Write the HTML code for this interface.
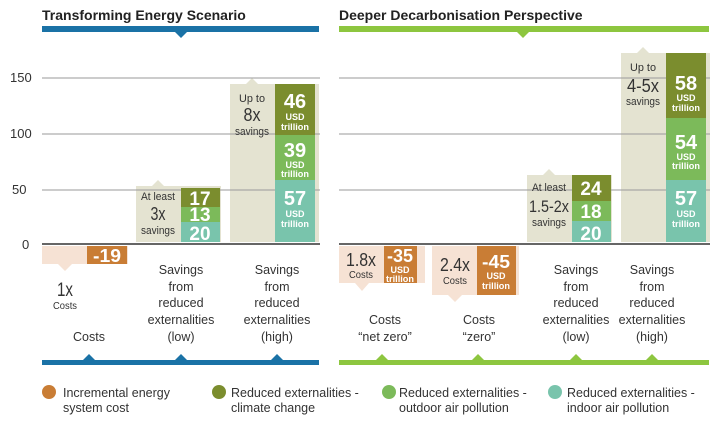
<!DOCTYPE html>
<html><head><meta charset="utf-8"><style>
body{margin:0;background:#fff}
svg{display:block}
.t{font-family:"Liberation Sans",sans-serif;font-size:14px;font-weight:bold;fill:#222}
.ax{font-family:"Liberation Sans",sans-serif;font-size:13px;fill:#333}
.c{font-family:"Liberation Sans Narrow","Liberation Sans",sans-serif;fill:#fff;text-anchor:middle;font-weight:bold}
.d{font-family:"Liberation Sans Narrow","Liberation Sans",sans-serif;fill:#333;text-anchor:middle}
.l{font-family:"Liberation Sans",sans-serif;font-size:12.5px;fill:#333;text-anchor:middle}
.lg{font-family:"Liberation Sans",sans-serif;font-size:12.5px;fill:#333}
</style></head><body>
<svg width="724" height="432" viewBox="0 0 724 432" xmlns="http://www.w3.org/2000/svg">
<text class="t" x="42" y="20">Transforming Energy Scenario</text>
<text class="t" x="339" y="20">Deeper Decarbonisation Perspective</text>
<rect x="42" y="26" width="277" height="6" fill="#1a72a6"/>
<polygon points="175,32 187,32 181,38" fill="#1a72a6"/>
<rect x="339" y="26" width="370" height="6" fill="#8dc63f"/>
<polygon points="517,32 529,32 523,38" fill="#8dc63f"/>
<!-- bgs first -->
<rect x="42" y="246" width="86" height="18" fill="#f6e2d4"/>
<polygon points="58,264 72,264 65,271" fill="#f6e2d4"/>
<polygon points="152,186 158,180 164,186" fill="#e4e3d1"/>
<rect x="136" y="186" width="85" height="56" fill="#e4e3d1"/>
<polygon points="246,84 252,78 258,84" fill="#e4e3d1"/>
<rect x="230" y="84" width="89" height="158" fill="#e4e3d1"/>
<rect x="339" y="246" width="86" height="37" fill="#f6e2d4"/>
<polygon points="355,283 369,283 362,291" fill="#f6e2d4"/>
<rect x="432" y="246" width="87" height="49" fill="#f6e2d4"/>
<polygon points="448,295 462,295 455,302" fill="#f6e2d4"/>
<polygon points="543,175 549,169 555,175" fill="#e4e3d1"/>
<rect x="527" y="175" width="85" height="67" fill="#e4e3d1"/>
<polygon points="637,53 643,47 649,53" fill="#e4e3d1"/>
<rect x="621" y="53" width="89" height="189" fill="#e4e3d1"/>
<g stroke="#9a9a9a" stroke-width="1">
<line x1="42" y1="78" x2="320" y2="78"/><line x1="42" y1="134" x2="320" y2="134"/><line x1="42" y1="190" x2="320" y2="190"/>
<line x1="339" y1="78" x2="710" y2="78"/><line x1="339" y1="134" x2="710" y2="134"/><line x1="339" y1="190" x2="710" y2="190"/>
</g>
<text class="ax" x="10" y="82">150</text><text class="ax" x="10" y="138">100</text><text class="ax" x="12" y="194">50</text><text class="ax" x="22" y="249">0</text>
<!-- left costs -->
<rect x="87" y="246" width="40" height="18" fill="#c97d35"/>
<text class="c" x="107" y="262" font-size="18" font-weight="normal" textLength="28" lengthAdjust="spacingAndGlyphs">-19</text>
<text class="d" x="65" y="296" font-size="19" textLength="16" lengthAdjust="spacingAndGlyphs">1x</text>
<text class="d" x="65" y="309" font-size="10" textLength="24" lengthAdjust="spacingAndGlyphs">Costs</text>
<!-- left low -->
<rect x="181" y="188" width="39" height="19" fill="#7b8d2e"/>
<rect x="181" y="207" width="39" height="15" fill="#7cba5a"/>
<rect x="181" y="222" width="39" height="20" fill="#79c4ac"/>
<text class="c" x="200" y="205" font-size="19" font-weight="normal">17</text>
<text class="c" x="200" y="221" font-size="19" font-weight="normal">13</text>
<text class="c" x="200" y="240" font-size="19" font-weight="normal">20</text>
<text class="d" x="158" y="200" font-size="11" textLength="34" lengthAdjust="spacingAndGlyphs">At least</text>
<text class="d" x="158" y="220" font-size="18" textLength="15" lengthAdjust="spacingAndGlyphs">3x</text>
<text class="d" x="158" y="234" font-size="11" textLength="34" lengthAdjust="spacingAndGlyphs">savings</text>
<!-- left high -->
<rect x="275" y="84" width="40" height="51" fill="#7b8d2e"/>
<rect x="275" y="135" width="40" height="45" fill="#7cba5a"/>
<rect x="275" y="180" width="40" height="62" fill="#79c4ac"/>
<text class="c" x="295" y="108" font-size="20" font-weight="normal">46</text><text class="c" x="295" y="120" font-size="9">USD</text><text class="c" x="295" y="130" font-size="9" textLength="28" lengthAdjust="spacingAndGlyphs">trillion</text>
<text class="c" x="295" y="157" font-size="20" font-weight="normal">39</text><text class="c" x="295" y="168" font-size="9">USD</text><text class="c" x="295" y="177" font-size="9" textLength="28" lengthAdjust="spacingAndGlyphs">trillion</text>
<text class="c" x="295" y="205" font-size="20" font-weight="normal">57</text><text class="c" x="295" y="217" font-size="9">USD</text><text class="c" x="295" y="227" font-size="9" textLength="28" lengthAdjust="spacingAndGlyphs">trillion</text>
<text class="d" x="252" y="102" font-size="11" textLength="26" lengthAdjust="spacingAndGlyphs">Up to</text>
<text class="d" x="252" y="121" font-size="18" textLength="17" lengthAdjust="spacingAndGlyphs">8x</text>
<text class="d" x="252" y="135" font-size="11" textLength="34" lengthAdjust="spacingAndGlyphs">savings</text>
<!-- right net zero -->
<rect x="384" y="246" width="33" height="37" fill="#c97d35"/>
<text class="c" x="400" y="262" font-size="18" font-weight="normal" textLength="26" lengthAdjust="spacingAndGlyphs">-35</text><text class="c" x="400" y="273" font-size="9">USD</text><text class="c" x="400" y="282" font-size="9" textLength="28" lengthAdjust="spacingAndGlyphs">trillion</text>
<text class="d" x="361" y="266" font-size="18" textLength="30" lengthAdjust="spacingAndGlyphs">1.8x</text>
<text class="d" x="361" y="278" font-size="10" textLength="24" lengthAdjust="spacingAndGlyphs">Costs</text>
<!-- right zero -->
<rect x="477" y="246" width="39" height="49" fill="#c97d35"/>
<text class="c" x="496" y="268" font-size="18" font-weight="normal" textLength="28" lengthAdjust="spacingAndGlyphs">-45</text><text class="c" x="496" y="279" font-size="9">USD</text><text class="c" x="496" y="289" font-size="9" textLength="28" lengthAdjust="spacingAndGlyphs">trillion</text>
<text class="d" x="455" y="271" font-size="18" textLength="30" lengthAdjust="spacingAndGlyphs">2.4x</text>
<text class="d" x="455" y="284" font-size="10" textLength="24" lengthAdjust="spacingAndGlyphs">Costs</text>
<!-- right low -->
<rect x="572" y="175" width="39" height="26" fill="#7b8d2e"/>
<rect x="572" y="201" width="39" height="20" fill="#7cba5a"/>
<rect x="572" y="221" width="39" height="21" fill="#79c4ac"/>
<text class="c" x="591" y="195" font-size="19" font-weight="normal">24</text>
<text class="c" x="591" y="218" font-size="19" font-weight="normal">18</text>
<text class="c" x="591" y="240" font-size="19" font-weight="normal">20</text>
<text class="d" x="549" y="191" font-size="11" textLength="34" lengthAdjust="spacingAndGlyphs">At least</text>
<text class="d" x="549" y="212" font-size="17" textLength="40" lengthAdjust="spacingAndGlyphs">1.5-2x</text>
<text class="d" x="549" y="226" font-size="11" textLength="34" lengthAdjust="spacingAndGlyphs">savings</text>
<!-- right high -->
<rect x="666" y="53" width="40" height="65" fill="#7b8d2e"/>
<rect x="666" y="118" width="40" height="62" fill="#7cba5a"/>
<rect x="666" y="180" width="40" height="62" fill="#79c4ac"/>
<text class="c" x="686" y="90" font-size="20" font-weight="normal">58</text><text class="c" x="686" y="101" font-size="9">USD</text><text class="c" x="686" y="111" font-size="9" textLength="28" lengthAdjust="spacingAndGlyphs">trillion</text>
<text class="c" x="686" y="149" font-size="20" font-weight="normal">54</text><text class="c" x="686" y="160" font-size="9">USD</text><text class="c" x="686" y="169" font-size="9" textLength="28" lengthAdjust="spacingAndGlyphs">trillion</text>
<text class="c" x="686" y="205" font-size="20" font-weight="normal">57</text><text class="c" x="686" y="217" font-size="9">USD</text><text class="c" x="686" y="227" font-size="9" textLength="28" lengthAdjust="spacingAndGlyphs">trillion</text>
<text class="d" x="643" y="71" font-size="11" textLength="26" lengthAdjust="spacingAndGlyphs">Up to</text>
<text class="d" x="643" y="92" font-size="18" textLength="32" lengthAdjust="spacingAndGlyphs">4-5x</text>
<text class="d" x="643" y="105" font-size="11" textLength="34" lengthAdjust="spacingAndGlyphs">savings</text>
<!-- zero line -->
<line x1="42" y1="244" x2="320" y2="244" stroke="#333" stroke-width="1.5"/>
<line x1="339" y1="244" x2="710" y2="244" stroke="#333" stroke-width="1.5"/>
<!-- category labels -->
<text class="l" x="89" y="341">Costs</text>
<text class="l"><tspan x="181" y="274">Savings</tspan><tspan x="181" y="291">from</tspan><tspan x="181" y="307">reduced</tspan><tspan x="181" y="324">externalities</tspan><tspan x="181" y="341">(low)</tspan></text>
<text class="l"><tspan x="277" y="274">Savings</tspan><tspan x="277" y="291">from</tspan><tspan x="277" y="307">reduced</tspan><tspan x="277" y="324">externalities</tspan><tspan x="277" y="341">(high)</tspan></text>
<text class="l"><tspan x="385" y="324">Costs</tspan><tspan x="385" y="341">“net zero”</tspan></text>
<text class="l"><tspan x="479" y="324">Costs</tspan><tspan x="479" y="341">“zero”</tspan></text>
<text class="l"><tspan x="576" y="274">Savings</tspan><tspan x="576" y="291">from</tspan><tspan x="576" y="307">reduced</tspan><tspan x="576" y="324">externalities</tspan><tspan x="576" y="341">(low)</tspan></text>
<text class="l"><tspan x="652" y="274">Savings</tspan><tspan x="652" y="291">from</tspan><tspan x="652" y="307">reduced</tspan><tspan x="652" y="324">externalities</tspan><tspan x="652" y="341">(high)</tspan></text>
<!-- bottom bars -->
<rect x="42" y="360" width="277" height="5" fill="#1a72a6"/>
<polygon points="83,360 95,360 89,354" fill="#1a72a6"/><polygon points="175,360 187,360 181,354" fill="#1a72a6"/><polygon points="271,360 283,360 277,354" fill="#1a72a6"/>
<rect x="339" y="360" width="370" height="5" fill="#8dc63f"/>
<polygon points="376,360 388,360 382,354" fill="#8dc63f"/><polygon points="472,360 484,360 478,354" fill="#8dc63f"/><polygon points="570,360 582,360 576,354" fill="#8dc63f"/><polygon points="646,360 658,360 652,354" fill="#8dc63f"/>
<!-- legend -->
<circle cx="49" cy="392" r="7" fill="#c97d35"/>
<text class="lg"><tspan x="63" y="397">Incremental energy</tspan><tspan x="63" y="412">system cost</tspan></text>
<circle cx="219" cy="392" r="7" fill="#7b8d2e"/>
<text class="lg"><tspan x="231" y="397">Reduced externalities -</tspan><tspan x="231" y="412">climate change</tspan></text>
<circle cx="389" cy="392" r="7" fill="#7cba5a"/>
<text class="lg"><tspan x="399" y="397">Reduced externalities -</tspan><tspan x="399" y="412">outdoor air pollution</tspan></text>
<circle cx="555" cy="392" r="7" fill="#79c4ac"/>
<text class="lg"><tspan x="567" y="397">Reduced externalities -</tspan><tspan x="567" y="412">indoor air pollution</tspan></text>
</svg>
</body></html>
